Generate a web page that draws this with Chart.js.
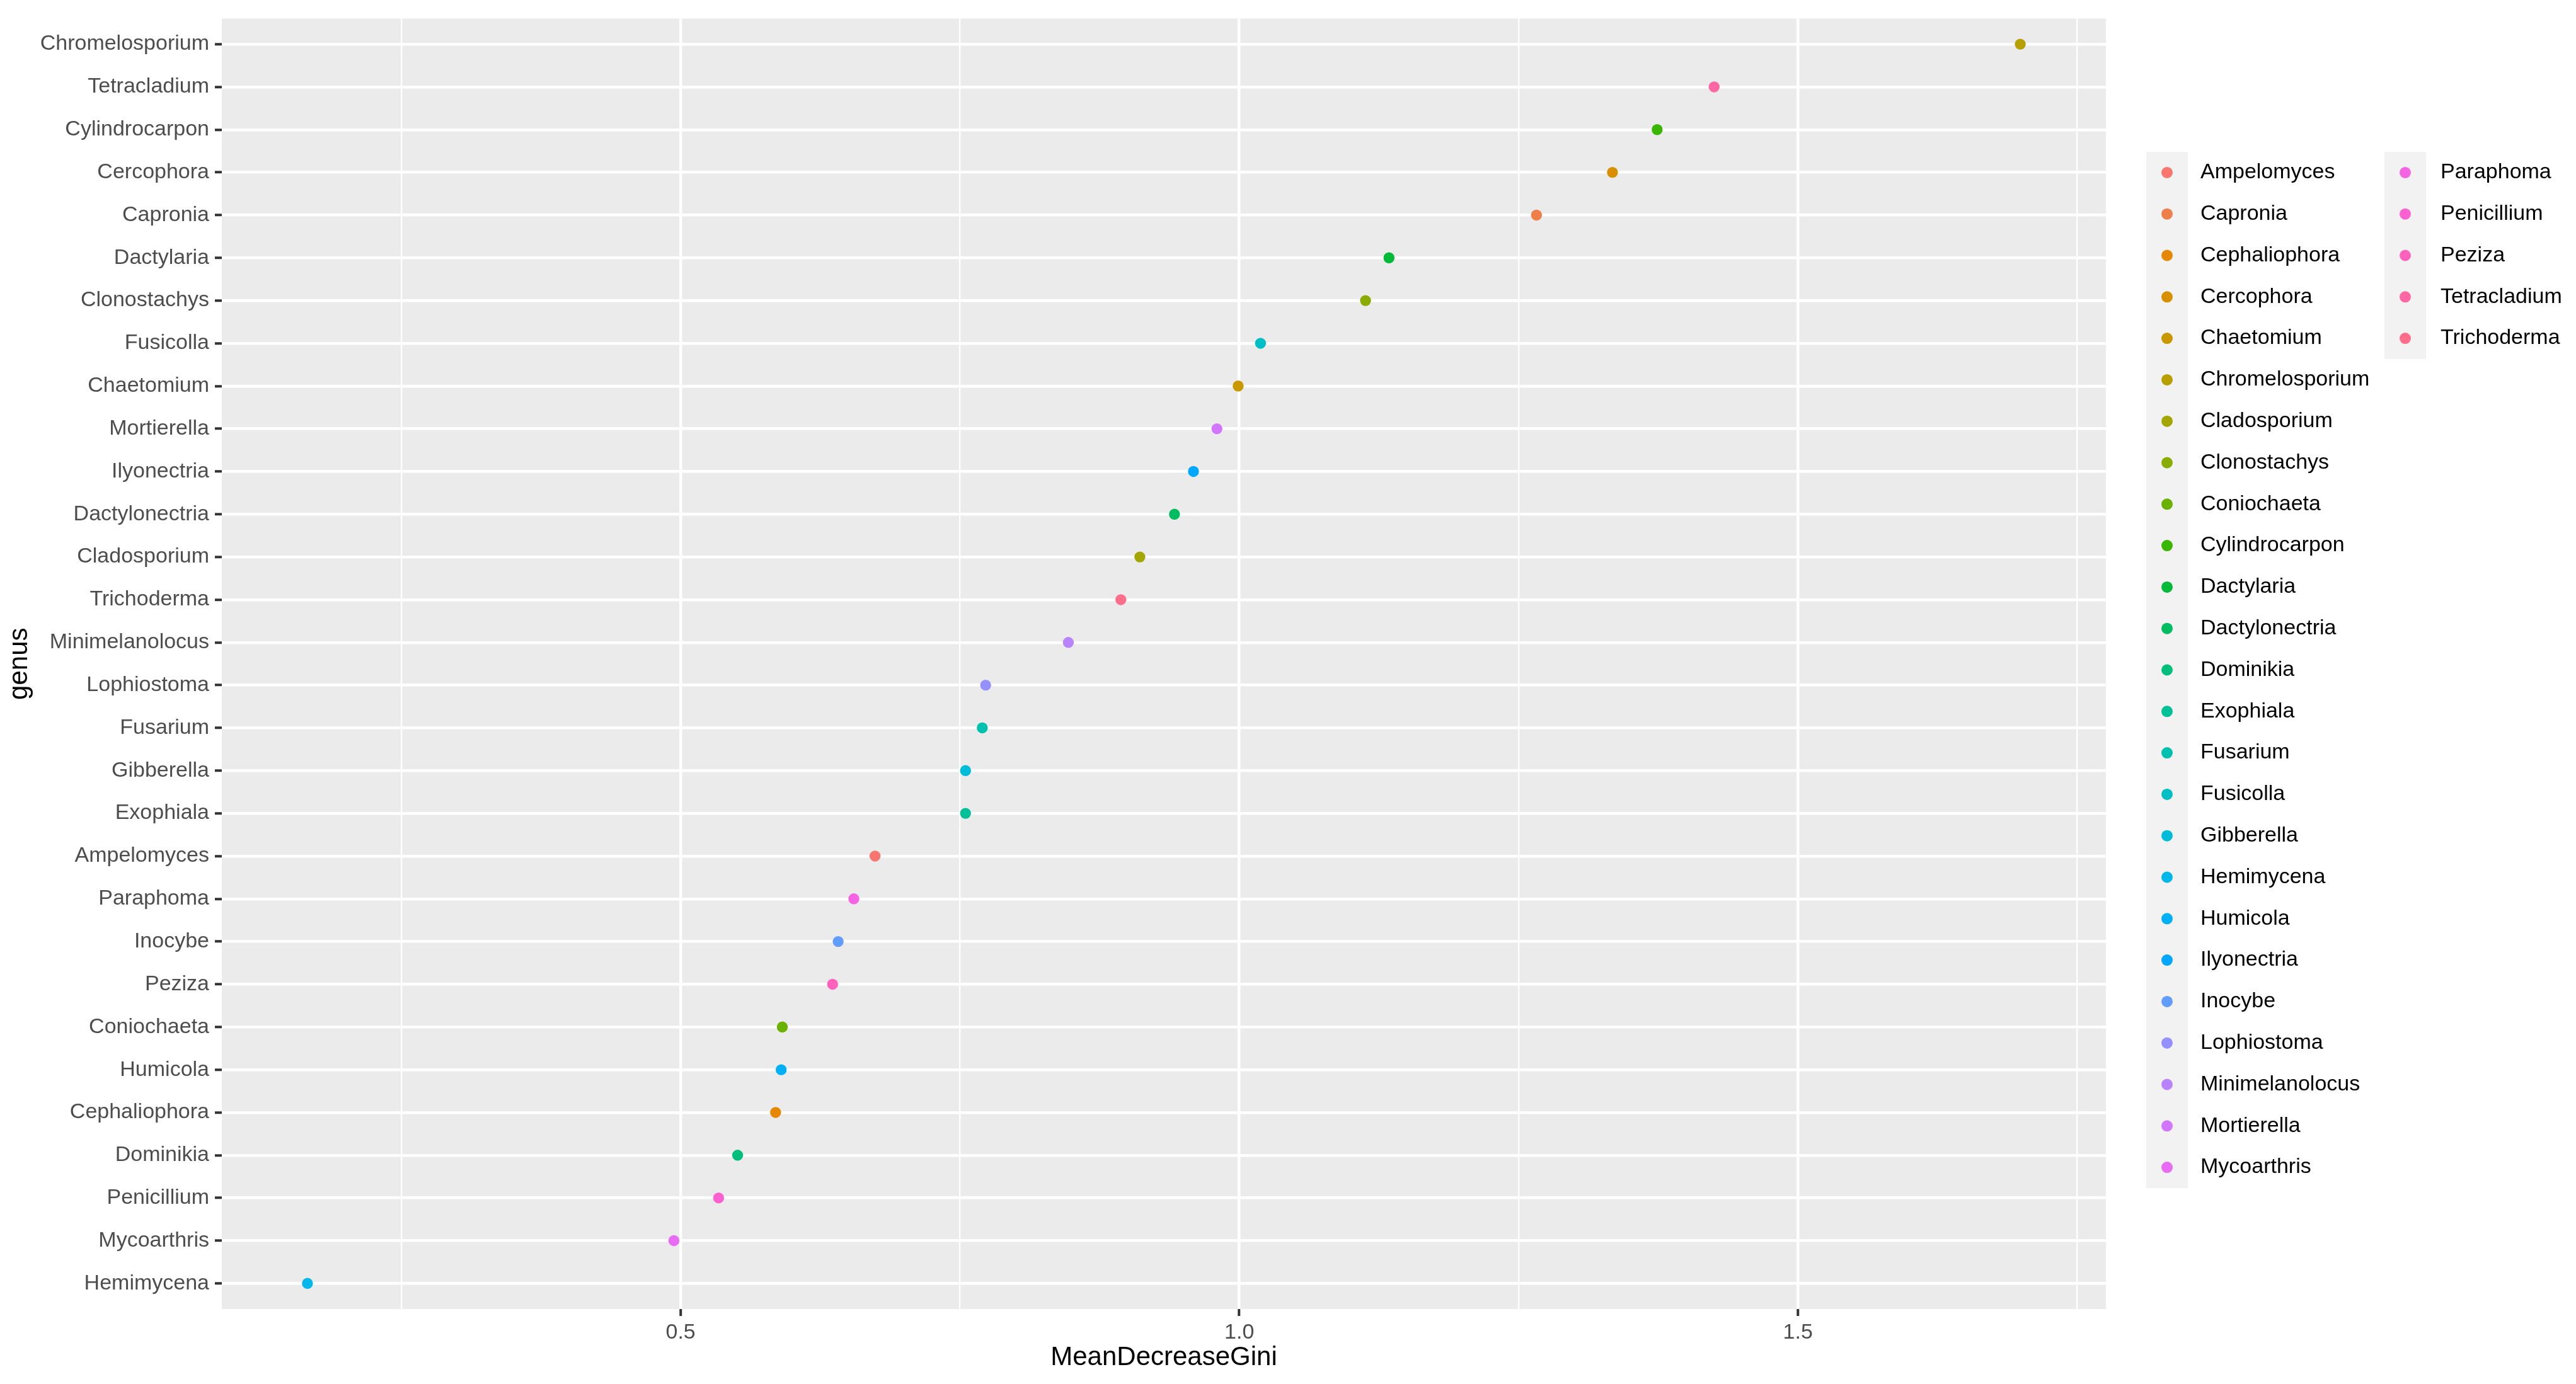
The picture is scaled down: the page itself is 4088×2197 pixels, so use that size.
<!DOCTYPE html>
<html>
<head>
<meta charset="utf-8">
<script src="https://cdn.jsdelivr.net/npm/chart.js@4/dist/chart.umd.min.js"></script>
<style>
  html,body{margin:0;padding:0;background:#ffffff;}
  #wrap{width:4088px;height:2197px;}
</style>
</head>
<body>
<div id="wrap">
  <canvas id="chartGini" width="4088" height="2197"></canvas>
</div>
<script>

/* ==========================================
   DATA (top to bottom as in the plot)
========================================== */
const genus = [
  "Chromelosporium","Tetracladium","Cylindrocarpon","Cercophora","Capronia",
  "Dactylaria","Clonostachys","Fusicolla","Chaetomium","Mortierella",
  "Ilyonectria","Dactylonectria","Cladosporium","Trichoderma","Minimelanolocus",
  "Lophiostoma","Fusarium","Gibberella","Exophiala","Ampelomyces",
  "Paraphoma","Inocybe","Peziza","Coniochaeta","Humicola",
  "Cephaliophora","Dominikia","Penicillium","Mycoarthris","Hemimycena"
];

const meanDecreaseGini = [
  1.699,1.425,1.374,1.334,1.266,
  1.134,1.113,1.019,0.999,0.980,
  0.959,0.942,0.911,0.894,0.847,
  0.773,0.770,0.755,0.755,0.674,
  0.655,0.641,0.636,0.591,0.590,
  0.585,0.551,0.534,0.494,0.166
];

const xTickValues = [0.25,0.5,0.75,1.0,1.25,1.5,1.75];
const xTickLabels = ["","0.5","","1.0","","1.5",""];

const xTitle = "MeanDecreaseGini";
const yTitle = "genus";

/* legend is alphabetical, like a factor */
const legendNames =
  [...genus].sort((a,b)=>a.localeCompare(b));

/* ==========================================
   GGPLOT HUE PALETTE (hcl c=100 l=65)
========================================== */
function hcl(h,c,l){

  const rad = h*Math.PI/180;
  const U = c*Math.cos(rad);
  const V = c*Math.sin(rad);

  const Y = Math.pow((l+16)/116,3);
  const un = 0.1978398, vn = 0.4683363;
  const up = U/(13*l) + un;
  const vp = V/(13*l) + vn;
  const X = 9*Y*up/(4*vp);
  const Z = Y*(12 - 3*up - 20*vp)/(4*vp);

  const lin = [
    3.240479*X - 1.537150*Y - 0.498535*Z,
   -0.969256*X + 1.875992*Y + 0.041556*Z,
    0.055648*X - 0.204043*Y + 1.057311*Z
  ];

  const out = lin.map(v=>{
    const g = v<=0.0031308 ? 12.92*v : 1.055*Math.pow(v,1/2.4)-0.055;
    return Math.round(Math.min(1,Math.max(0,g))*255);
  });

  return "rgb(" + out.join(",") + ")";

}

const colorOf = {};
legendNames.forEach((name,i)=>{
  colorOf[name] = hcl(15 + i*360/legendNames.length,100,65);
});

/* ==========================================
   LAYOUT
========================================== */
const FONT = "'Liberation Sans', Arial, Helvetica, sans-serif";
const PANEL = {left:352, top:27, right:3342, bottom:2078};

const xMin = Math.min(...meanDecreaseGini);
const xMax = Math.max(...meanDecreaseGini);
const xPad = (xMax - xMin)*0.05;

/* ==========================================
   PLUGINS
========================================== */
const panelBackground = {
  id:"panelBackground",
  beforeDraw(chart){
    const a = chart.chartArea;
    const ctx = chart.ctx;
    ctx.save();
    ctx.fillStyle = "#EBEBEB";
    ctx.fillRect(a.left,a.top,a.right-a.left,a.bottom-a.top);
    ctx.restore();
  }
};

const ggLegend = {
  id:"ggLegend",
  afterDraw(chart){

    const ctx = chart.ctx;
    const rowH = 65.8;
    const keyW = 66;
    const top = 241;
    const perCol = 25;
    const cols = [
      {keyX:3406, textX:3492},
      {keyX:3784, textX:3873}
    ];

    ctx.save();

    cols.forEach((col,c)=>{
      const n = Math.min(perCol, legendNames.length - c*perCol);
      if(n<=0) return;
      ctx.fillStyle = "#F2F2F2";
      ctx.fillRect(col.keyX, top, keyW, n*rowH);
    });

    legendNames.forEach((name,i)=>{

      const col = cols[Math.floor(i/perCol)];
      const cy = top + (i%perCol)*rowH + rowH/2;

      ctx.fillStyle = colorOf[name];
      ctx.beginPath();
      ctx.arc(col.keyX + keyW/2, cy, 9, 0, Math.PI*2);
      ctx.fill();

      ctx.fillStyle = "#000000";
      ctx.font = "34px " + FONT;
      ctx.textAlign = "left";
      ctx.textBaseline = "middle";
      ctx.fillText(name, col.textX, cy);

    });

    ctx.restore();

  }
};

/* ==========================================
   CHART
========================================== */
new Chart(
  document.getElementById("chartGini"),
  {
    type:"scatter",
    data:{
      datasets:[
        {
          label:"genus",
          data:genus.map((g,i)=>({x:meanDecreaseGini[i], y:i})),
          pointBackgroundColor:genus.map(g=>colorOf[g]),
          pointBorderWidth:0,
          pointRadius:8.7,
          pointHoverRadius:8.7
        }
      ]
    },
    options:{
      responsive:false,
      animation:false,
      devicePixelRatio:1,
      layout:{
        padding:{
          left:0,
          top:PANEL.top,
          right:4088-PANEL.right,
          bottom:0
        }
      },
      plugins:{
        legend:{display:false},
        tooltip:{enabled:false}
      },
      scales:{
        x:{
          type:"linear",
          min:xMin - xPad,
          max:xMax + xPad,
          afterBuildTicks(scale){
            scale.ticks = xTickValues.map(v=>({value:v}));
          },
          afterFit(scale){
            scale.height = 2197 - PANEL.bottom;
          },
          border:{display:false},
          grid:{
            color:"#FFFFFF",
            lineWidth:ctx=>(ctx.tick && xTickLabels[xTickValues.indexOf(ctx.tick.value)]==="") ? 2.3 : 4.5,
            tickLength:11,
            tickWidth:4,
            tickColor:ctx=>(ctx.tick && xTickLabels[xTickValues.indexOf(ctx.tick.value)]==="") ? "rgba(0,0,0,0)" : "#333333"
          },
          ticks:{
            autoSkip:false,
            maxRotation:0,
            padding:6,
            color:"#4D4D4D",
            font:{family:FONT, size:34},
            callback:v=>{
              const k = xTickValues.indexOf(v);
              return k<0 ? "" : xTickLabels[k];
            }
          },
          title:{
            display:true,
            text:xTitle,
            color:"#000000",
            font:{family:FONT, size:42},
            padding:{top:0,bottom:16}
          }
        },
        y:{
          type:"linear",
          reverse:true,
          min:-0.6,
          max:genus.length - 1 + 0.6,
          afterBuildTicks(scale){
            scale.ticks = genus.map((g,i)=>({value:i}));
          },
          afterFit(scale){
            scale.width = PANEL.left;
          },
          border:{display:false},
          grid:{
            color:"#FFFFFF",
            lineWidth:4.5,
            tickLength:11,
            tickWidth:4,
            tickColor:"#333333"
          },
          ticks:{
            autoSkip:false,
            padding:9,
            color:"#4D4D4D",
            font:{family:FONT, size:34},
            callback:v=>genus[v] ?? ""
          },
          title:{
            display:true,
            text:yTitle,
            color:"#000000",
            font:{family:FONT, size:42},
            padding:{top:6,bottom:0}
          }
        }
      }
    },
    plugins:[panelBackground, ggLegend]
  }
);

</script>
</body>
</html>
